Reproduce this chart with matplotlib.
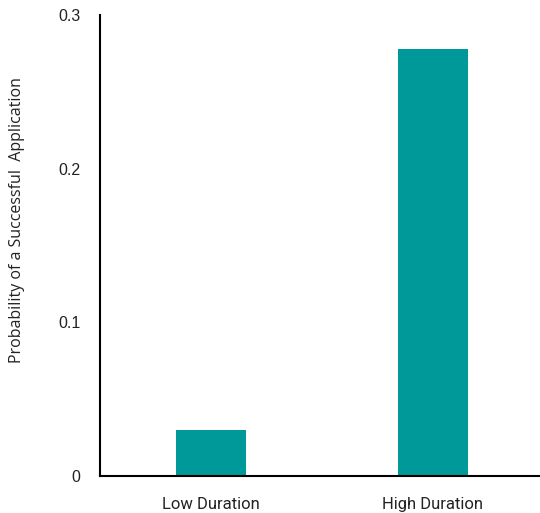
import matplotlib
matplotlib.use("Agg")
import matplotlib.pyplot as plt

# Data
categories = ["Low Duration", "High Duration"]
probabilities = [0.030, 0.278]
y_ticks = [0, 0.1, 0.2, 0.3]
y_tick_labels = ["0", "0.1", "0.2", "0.3"]

fig = plt.figure(figsize=(5.4, 5.13), dpi=100)
ax = fig.add_axes([100 / 540, 37 / 513, 440 / 540, 461 / 513])

ax.bar(range(len(categories)), probabilities, width=0.315, color="#00999a")

ax.set_xlim(-0.5, 1.482)
ax.set_ylim(0, 0.3)
ax.set_yticks(y_ticks)
ax.set_yticklabels(y_tick_labels, family="Liberation Sans", fontsize=11.5, color="#222222")
ax.set_xticks(range(len(categories)))
ax.set_xticklabels(categories, family="Roboto", fontsize=12, color="#222222")
ax.tick_params(axis="both", length=0)
ax.tick_params(axis="y", pad=14)
ax.tick_params(axis="x", pad=15)

ax.set_ylabel("Probability of a Successful  Application", family="Open Sans",
              fontsize=11.5, color="#222222")
ax.yaxis.set_label_coords(-0.17, 0.555)

for side in ["top", "right"]:
    ax.spines[side].set_visible(False)
for side in ["left", "bottom"]:
    ax.spines[side].set_linewidth(1.5)
    ax.spines[side].set_color("black")

fig.savefig("out.png", dpi=100)
